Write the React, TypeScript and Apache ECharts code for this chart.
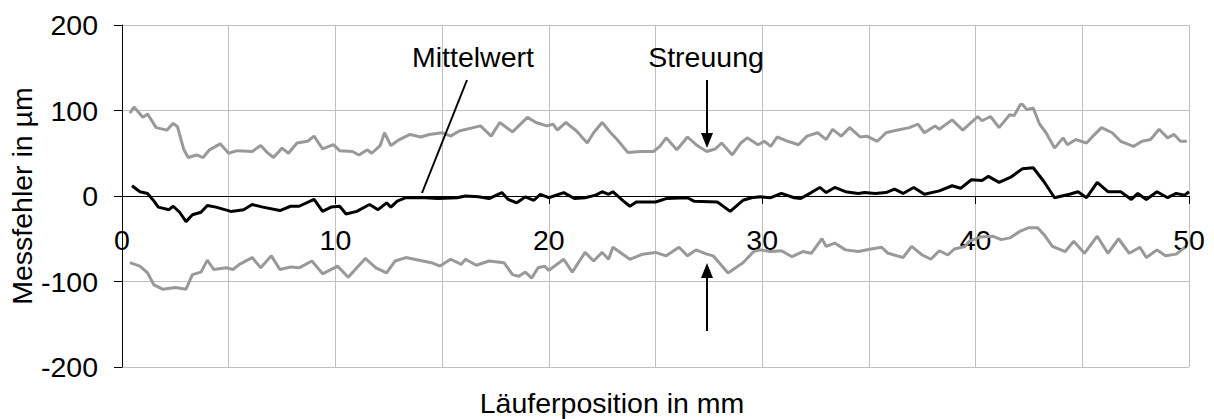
import React, { useEffect, useRef } from "react";
import * as echarts from "echarts";

// Läuferposition (mm) / Messfehler (µm)
const upperX = [0.37,0.56,0.98,1.2,1.6,2.1,2.4,2.6,2.9,3.1,3.5,3.8,4.1,4.6,5.0,5.4,6.1,6.5,6.8,7.1,7.5,7.8,8.2,8.7,9.0,9.4,9.9,10.2,10.8,11.1,11.5,11.7,12.1,12.3,12.6,13.0,13.5,14.0,14.4,15.0,15.4,15.8,16.8,17.3,17.7,18.3,19.0,19.4,19.9,20.2,20.4,20.8,21.3,21.8,22.1,22.5,22.9,23.2,23.7,24.3,24.9,25.2,25.5,26.0,26.5,26.9,27.4,27.8,28.1,28.6,29.0,29.3,29.8,30.1,30.4,30.7,31.2,31.7,32.1,32.6,33.0,33.3,33.7,34.1,34.6,34.9,35.4,35.8,36.3,36.9,37.3,37.6,38.1,38.3,38.9,39.4,40.1,40.3,40.7,41.1,41.6,41.8,42.1,42.2,42.4,42.7,43.0,43.3,43.7,44.1,44.3,44.7,45.2,45.5,45.9,46.4,46.8,47.4,47.8,48.2,48.6,49.0,49.3,49.6,49.9];
const upperY = [97,104,92,96,80,77,85,81,54,45,48,45,54,61,50,53,52,59,51,45,56,50,62,64,70,55,60,53,52,48,54,50,59,74,59,66,72,69,72,74,70,76,82,70,86,75,92,86,82,84,77,86,76,62,74,86,74,66,51,52,52,58,68,54,69,60,52,55,62,48,62,68,60,64,58,69,64,60,70,74,66,78,70,80,69,70,64,74,77,80,84,74,82,78,89,77,93,88,93,80,95,94,107,107,101,103,84,74,56,68,60,66,62,70,80,74,64,58,64,66,78,68,72,64,64];

const meanX = [0.47,0.84,1.2,1.5,1.7,2.2,2.4,2.7,3.0,3.3,3.7,4.0,4.4,5.1,5.7,6.1,6.6,7.4,7.9,8.3,9.0,9.4,9.8,10.2,10.5,11.0,11.6,12.0,12.4,12.6,12.9,13.3,14.2,14.8,15.7,16.1,16.7,17.2,17.8,18.1,18.5,18.9,19.3,19.6,20.0,20.7,21.2,21.7,22.2,22.5,22.8,23.0,23.5,23.8,24.1,25.0,25.5,26.5,26.8,27.9,28.5,29.1,29.5,29.9,30.4,30.9,31.5,31.8,32.3,32.7,33.0,33.4,33.9,34.5,34.8,35.3,35.8,36.2,36.6,37.1,37.6,38.3,38.9,39.3,39.8,40.3,40.6,41.1,41.65,42.2,42.7,43.2,43.7,44.4,44.8,45.2,45.7,46.2,46.8,47.3,47.6,48.0,48.5,49.0,49.4,49.8,50.0];
const meanY = [12,5,3,-6,-13,-16,-12,-19,-30,-22,-19,-11,-13,-18,-16,-10,-13,-17,-12,-12,-4,-18,-13,-12,-21,-18,-10,-16,-8,-13,-6,-2,-2,-3,-2,0,-1,-3,4,-4,-8,-1,-5,2,-2,4,-3,-2,1,5,2,5,-6,-12,-7,-7,-3,-2,-6,-7,-18,-5,-2,-1,-2,3,-2,-3,4,10,4,10,5,3,4,3,4,8,3,10,2,6,12,9,19,18,23,16,22,32,33,17,-2,2,5,-2,16,5,5,-4,3,-4,5,-2,3,1,5];

const lowerX = [0.37,0.84,1.2,1.5,1.9,2.5,3.0,3.3,3.7,4.0,4.3,4.9,5.2,5.5,6.1,6.5,7.0,7.4,7.9,8.3,8.9,9.4,10.1,10.6,11.4,11.9,12.4,12.8,13.3,13.7,14.5,14.9,15.4,15.9,16.1,16.6,17.2,17.9,18.3,18.6,18.9,19.2,19.5,19.8,20.0,20.7,21.1,21.7,22.1,22.5,22.8,23.0,23.8,24.4,25.0,25.5,26.1,26.5,26.9,27.4,27.7,28.4,29.1,29.6,29.9,30.4,30.9,31.4,31.9,32.3,32.8,33.0,33.4,33.9,34.5,35.1,35.6,35.9,36.6,37.0,37.5,37.9,38.3,38.7,39.0,39.5,39.7,40.2,40.8,41.2,41.6,42.1,42.5,42.9,43.2,43.6,44.2,44.6,45.1,45.7,46.2,46.7,47.2,47.7,48.0,48.5,48.9,49.4,49.8];
const lowerY = [-78,-82,-90,-104,-109,-107,-109,-92,-89,-75,-86,-84,-86,-80,-72,-84,-70,-86,-83,-84,-76,-91,-82,-95,-73,-84,-90,-76,-72,-74,-78,-82,-74,-80,-74,-81,-76,-78,-92,-94,-89,-96,-84,-82,-87,-74,-89,-66,-76,-66,-74,-60,-74,-68,-66,-70,-60,-70,-63,-68,-70,-90,-78,-65,-63,-65,-64,-71,-65,-67,-50,-59,-55,-63,-65,-62,-60,-67,-72,-59,-69,-74,-64,-69,-62,-59,-53,-48,-47,-51,-49,-41,-37,-37,-45,-59,-65,-53,-67,-47,-67,-50,-67,-60,-72,-63,-70,-68,-60];

const xTicks = [0, 10, 20, 30, 40, 50];
const yTicks = [-200, -100, 0, 100, 200];

const FONT = "'Liberation Sans', Arial, sans-serif";
const FS = 28.5;

const pairs = (xs: number[], ys: number[]) => xs.map((x, i) => [x, ys[i]]);

export default function App() {
  const ref = useRef<HTMLDivElement>(null);
  useEffect(() => {
    document.body.style.margin = "0";
    const chart = echarts.init(ref.current!, undefined, { renderer: "svg" });
    const gridColor = "#c0c0c0";
    const xMin = xTicks[0];
    const xMax = xTicks[xTicks.length - 1];
    chart.setOption({
      animation: false,
      backgroundColor: "#ffffff",
      grid: [
        { left: 122, right: 25, top: 25, bottom: 52 },
        // upper half grid whose bottom edge is the zero line: carries the x axis labels
        { left: 122, right: 25, top: 25, height: 171 },
      ],
      xAxis: [
        {
          gridIndex: 0, type: "value", min: xMin, max: xMax, interval: 10,
          axisLine: { show: false }, axisTick: { show: false }, axisLabel: { show: false },
          splitLine: { show: true, lineStyle: { color: gridColor, width: 1 } },
          minorTick: { show: false, splitNumber: 2 },
          minorSplitLine: { show: true, lineStyle: { color: gridColor, width: 1 } },
        },
        {
          gridIndex: 1, type: "value", min: xMin, max: xMax, interval: 10, position: "bottom",
          axisLine: { show: true, onZero: false, lineStyle: { color: "#000", width: 1 } },
          axisTick: { show: true, inside: false, length: 8, lineStyle: { color: "#000" } },
          axisLabel: { show: true, color: "#000", fontSize: FS, fontFamily: FONT, margin: 29 },
          splitLine: { show: false },
        },
      ],
      yAxis: [
        {
          gridIndex: 0, type: "value", min: yTicks[0], max: yTicks[yTicks.length - 1], interval: 100,
          axisLine: { show: true, onZero: false, lineStyle: { color: "#000", width: 1 } },
          axisTick: { show: true, inside: false, length: 8, lineStyle: { color: "#000" } },
          axisLabel: { color: "#000", fontSize: FS, fontFamily: FONT, margin: 24 },
          splitLine: { show: true, lineStyle: { color: gridColor, width: 1 } },
        },
        {
          gridIndex: 1, type: "value", min: 0, max: 200, show: false,
          splitLine: { show: false },
        },
      ],
      series: [
        { type: "line", name: "Streuung oben", xAxisIndex: 0, yAxisIndex: 0, data: pairs(upperX, upperY), showSymbol: false, lineStyle: { color: "#999999", width: 3 }, z: 3 },
        { type: "line", name: "Streuung unten", xAxisIndex: 0, yAxisIndex: 0, data: pairs(lowerX, lowerY), showSymbol: false, lineStyle: { color: "#999999", width: 3 }, z: 3 },
        { type: "line", name: "Mittelwert", xAxisIndex: 0, yAxisIndex: 0, data: pairs(meanX, meanY), showSymbol: false, lineStyle: { color: "#000000", width: 3 }, z: 4 },
      ],
      graphic: [
        { type: "text", x: 473, y: 57, style: { text: "Mittelwert", font: `${FS}px ${FONT}`, fill: "#000", textAlign: "center", textVerticalAlign: "middle" }, z: 10 },
        { type: "line", shape: { x1: 467, y1: 80, x2: 422, y2: 193 }, style: { stroke: "#000", lineWidth: 2 }, z: 10 },
        { type: "text", x: 706, y: 57, style: { text: "Streuung", font: `${FS}px ${FONT}`, fill: "#000", textAlign: "center", textVerticalAlign: "middle" }, z: 10 },
        { type: "line", shape: { x1: 707, y1: 80, x2: 707, y2: 136 }, style: { stroke: "#000", lineWidth: 2 }, z: 10 },
        { type: "polygon", shape: { points: [[701, 133], [713, 133], [707, 148]] }, style: { fill: "#000" }, z: 10 },
        { type: "line", shape: { x1: 707, y1: 331, x2: 707, y2: 276 }, style: { stroke: "#000", lineWidth: 2 }, z: 10 },
        { type: "polygon", shape: { points: [[701, 278], [713, 278], [707, 263]] }, style: { fill: "#000" }, z: 10 },
        { type: "text", x: 612, y: 403, style: { text: "Läuferposition in mm", font: `${FS}px ${FONT}`, fill: "#000", textAlign: "center", textVerticalAlign: "middle" }, z: 10 },
        { type: "text", x: 22, y: 196, rotation: Math.PI / 2, style: { text: "Messfehler in µm", font: `${FS}px ${FONT}`, fill: "#000", textAlign: "center", textVerticalAlign: "middle" }, z: 10 },
      ],
    });
    return () => chart.dispose();
  }, []);
  return <div ref={ref} style={{ width: 1214, height: 419 }} />;
}
